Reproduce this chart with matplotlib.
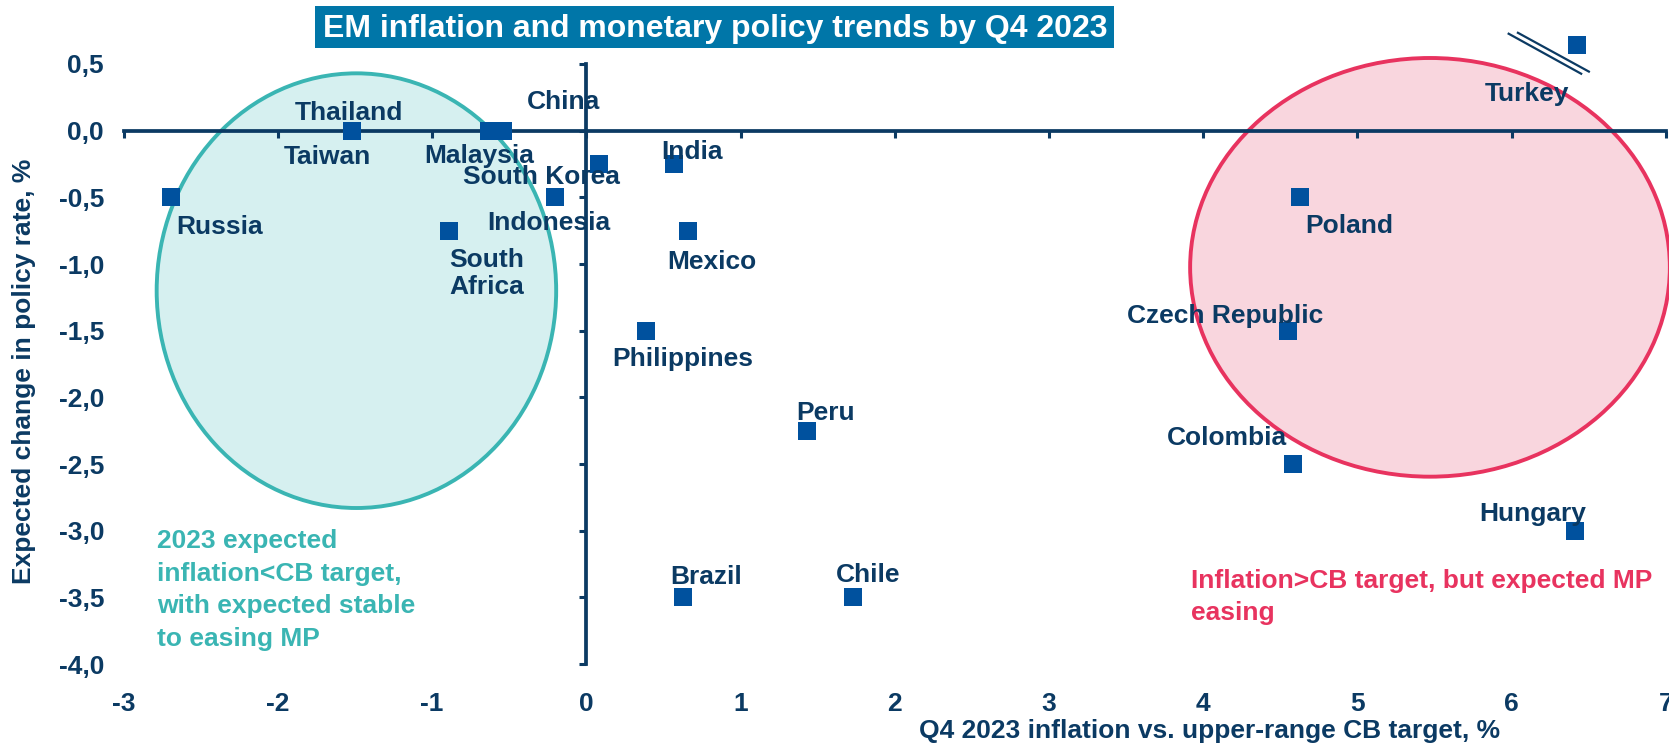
import matplotlib
matplotlib.use("Agg")
import matplotlib.pyplot as plt
from matplotlib.patches import Ellipse, Rectangle

plt.rcParams["font.family"] = ["Liberation Sans", "DejaVu Sans"]
plt.rcParams["font.weight"] = "bold"

# data
countries = ["Turkey", "Thailand", "Taiwan", "Malaysia", "China", "Russia",
             "South Korea", "India", "Indonesia", "South\nAfrica", "Mexico",
             "Philippines", "Peru", "Brazil", "Chile", "Poland",
             "Czech Republic", "Colombia", "Hungary"]
inflation_gap = [6.42, -1.52, -1.52, -0.63, -0.54, -2.69, 0.08, 0.57, -0.20,
                 -0.89, 0.66, 0.39, 1.43, 0.63, 1.73, 4.63, 4.55, 4.58, 6.41]
rate_change = [0.645, 0.0, 0.0, 0.0, 0.0, -0.5, -0.25, -0.25, -0.5, -0.75,
               -0.75, -1.5, -2.25, -3.5, -3.5, -0.5, -1.5, -2.5, -3.0]
x_ticks = [-3, -2, -1, 0, 1, 2, 3, 4, 5, 6, 7]
y_ticks = [0.5, 0.0, -0.5, -1.0, -1.5, -2.0, -2.5, -3.0, -3.5, -4.0]

# label offsets from each marker, in pixels (right, up)
label_offsets = {
    "Turkey": (-50, -49), "Thailand": (-3, 18), "Taiwan": (-24, -26),
    "Malaysia": (-10, -25), "China": (61, 29), "Russia": (48, -30),
    "South Korea": (-57, -13), "India": (18, 12), "Indonesia": (-7, -26),
    "South\nAfrica": (38, -43), "Mexico": (24, -31), "Philippines": (36, -28),
    "Peru": (19, 18), "Brazil": (23, 20), "Chile": (15, 22),
    "Poland": (49, -29), "Czech Republic": (-63, 15), "Colombia": (-66, 26),
    "Hungary": (-42, 17),
}

NAVY = "#0B3A63"
MARK = "#00519E"
TEAL = "#3AB5B3"
PINK = "#E8335F"
FS = 19

fig = plt.figure(figsize=(16.69, 7.45), dpi=100)
ax = fig.add_axes([0.074, 0.1087, 0.9242, 0.8054])
ax.set_xlim(-3, 7)
ax.set_ylim(-4, 0.5)

# shaded regions
ax.add_patch(Ellipse((-1.49, -1.20), 2.59, 3.26, facecolor="#D6F0F0",
                     edgecolor=TEAL, lw=2.8, zorder=1, clip_on=False))
ax.add_patch(Ellipse((5.47, -1.025), 3.11, 3.14, facecolor="#F9D6DE",
                     edgecolor=PINK, lw=2.8, zorder=1, clip_on=False))

# axes crossing at the origin
for side in ("top", "right"):
    ax.spines[side].set_visible(False)
ax.spines["left"].set_position(("data", 0))
ax.spines["bottom"].set_position(("data", 0))
for side in ("left", "bottom"):
    ax.spines[side].set_color(NAVY)
    ax.spines[side].set_linewidth(2.7)
    ax.spines[side].set_zorder(2)
ax.set_xticks(x_ticks)
ax.set_yticks(y_ticks)
ax.tick_params(direction="out", length=5, width=2.2, color=NAVY,
               labelbottom=False, labelleft=False)

# tick labels at the frame edge
sx = ax.secondary_xaxis("bottom")
sx.set_xticks(x_ticks)
sx.set_xticklabels([str(v) for v in x_ticks])
sx.spines["bottom"].set_visible(False)
sx.tick_params(length=0, pad=20, labelsize=FS, labelcolor=NAVY)

sy = ax.secondary_yaxis("left")
sy.set_yticks(y_ticks)
sy.set_yticklabels([f"{v:.1f}".replace(".", ",") for v in y_ticks])
sy.spines["left"].set_visible(False)
sy.tick_params(length=0, pad=14, labelsize=FS, labelcolor=NAVY)

ax.set_xlabel("Q4 2023 inflation vs. upper-range CB target, %",
              fontsize=FS, color=NAVY, fontweight="bold")
ax.xaxis.set_label_coords(0.704, -0.092)
ax.set_ylabel("Expected change in policy rate, %", fontsize=FS,
              color=NAVY, fontweight="bold")
ax.yaxis.set_label_coords(-0.0567, 0.487)

ax.scatter(inflation_gap, rate_change, marker="s", s=187, color=MARK,
           linewidths=0, zorder=3, clip_on=False)

for name, x, y in zip(countries, inflation_gap, rate_change):
    ax.annotate(name, (x, y), xytext=label_offsets[name],
                textcoords="offset pixels", ha="center", va="center",
                fontsize=FS, color=NAVY, fontweight="bold", zorder=4,
                linespacing=1.15, annotation_clip=False)

# axis-break marks next to Turkey
tx, ty = inflation_gap[0], rate_change[0]
ax.plot([tx - 0.44, tx + 0.03], [ty + 0.082, ty - 0.218], color=NAVY,
        lw=1.6, clip_on=False, zorder=3)
ax.plot([tx - 0.38, tx + 0.08], [ty + 0.089, ty - 0.202], color=NAVY,
        lw=1.6, clip_on=False, zorder=3)

ax.text(-2.78, -2.99, "2023 expected\ninflation<CB target,\nwith expected stable\nto easing MP",
        ha="left", va="top", fontsize=FS, color=TEAL, fontweight="bold",
        linespacing=1.45, zorder=4)
ax.text(3.92, -3.29, "Inflation>CB target, but expected MP\neasing",
        ha="left", va="top", fontsize=FS, color=PINK, fontweight="bold",
        linespacing=1.4, zorder=4)

# title banner
fig.patches.append(Rectangle((0.1887, 0.9356), 0.4787, 0.0557,
                             transform=fig.transFigure, facecolor="#0076A8",
                             edgecolor="none", zorder=0))
fig.text(0.4285, 0.961, "EM inflation and monetary policy trends by Q4 2023",
         ha="center", va="center", fontsize=23, color="white",
         fontweight="bold")

fig.savefig("out.png", dpi=100)
